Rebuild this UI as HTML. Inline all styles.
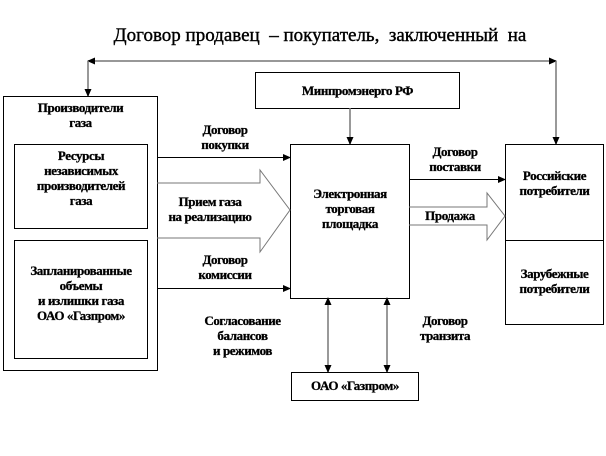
<!DOCTYPE html>
<html><head><meta charset="utf-8"><style>
body{margin:0;background:#fff;width:606px;height:456px;overflow:hidden;position:relative;font-family:"Liberation Serif",serif;}
.t{position:absolute;font-weight:bold;font-size:13px;line-height:15px;text-align:center;color:#000;letter-spacing:-0.4px;-webkit-text-stroke:0.3px #000}
</style></head><body>
<svg width="606" height="456" style="position:absolute;left:0;top:0">
<defs>
<marker id="a" markerWidth="8" markerHeight="8" refX="7" refY="4" orient="auto" markerUnits="userSpaceOnUse"><path d="M0,0.5 L8,4 L0,7.5z" fill="#000"/></marker>
<marker id="g" markerWidth="8" markerHeight="8" refX="7" refY="4" orient="auto-start-reverse" markerUnits="userSpaceOnUse"><path d="M0,0.5 L8,4 L0,7.5z" fill="#000"/></marker>
</defs>
<g fill="none" stroke="#000" stroke-width="1">
<rect x="3.5" y="96.5" width="154" height="274"/>
<rect x="14.5" y="144.5" width="133" height="84"/>
<rect x="14.5" y="240.5" width="133" height="118"/>
<rect x="255.5" y="72.5" width="204" height="36"/>
<rect x="290.5" y="144.5" width="119" height="154"/>
<rect x="505.5" y="144.5" width="98" height="180"/>
<line x1="505" y1="240.5" x2="604" y2="240.5"/>
<rect x="291.5" y="372.5" width="127" height="28"/>
<line x1="157" y1="157.5" x2="290" y2="157.5" marker-end="url(#a)"/>
<line x1="157" y1="288.5" x2="290" y2="288.5" marker-end="url(#a)"/>
<line x1="409" y1="179.5" x2="505" y2="179.5" marker-end="url(#a)"/>
<path d="M157,183 L260,183 L260,170 L290,210 L260,252 L260,238 L157,238" stroke="#777"/>
<path d="M409,207 L487,207 L487,193 L505,216 L487,240 L487,225 L409,225" stroke="#777"/>
</g>
<g stroke="#777" stroke-width="1.5" fill="none">
<line x1="88" y1="61" x2="556" y2="61" marker-start="url(#g)" marker-end="url(#g)"/>
<line x1="88" y1="61" x2="88" y2="96" marker-end="url(#g)"/>
<line x1="556" y1="61" x2="556" y2="144" marker-end="url(#g)"/>
<line x1="350" y1="108" x2="350" y2="144" marker-end="url(#g)"/>
<line x1="328" y1="298" x2="328" y2="372" marker-start="url(#g)" marker-end="url(#g)"/>
<line x1="387" y1="298" x2="387" y2="372" marker-start="url(#g)" marker-end="url(#g)"/>
</g>
</svg>
<div style="position:absolute;left:50px;top:25px;width:540px;text-align:center;font-size:19px;-webkit-text-stroke:0.4px #000">Договор продавец &nbsp;– покупатель, &nbsp;заключенный &nbsp;на</div>
<div class="t" style="left:3px;top:100px;width:155px">Производители<br>газа</div>
<div class="t" style="left:14px;top:148px;width:134px">Ресурсы<br>независимых<br>производителей<br>газа</div>
<div class="t" style="left:10px;top:263px;width:142px">Запланированные<br>объемы<br>и излишки газа<br>ОАО «Газпром»</div>
<div class="t" style="left:255px;top:83px;width:205px">Минпромэнерго РФ</div>
<div class="t" style="left:180px;top:122px;width:90px">Договор<br>покупки</div>
<div class="t" style="left:150px;top:194px;width:120px">Прием газа<br>на реализацию</div>
<div class="t" style="left:180px;top:252px;width:90px">Договор<br>комиссии</div>
<div class="t" style="left:290px;top:186px;width:120px">Электронная<br>торговая<br>площадка</div>
<div class="t" style="left:410px;top:144px;width:90px">Договор<br>поставки</div>
<div class="t" style="left:410px;top:208px;width:80px">Продажа</div>
<div class="t" style="left:505px;top:168px;width:99px">Российские<br>потребители</div>
<div class="t" style="left:505px;top:266px;width:99px">Зарубежные<br>потребители</div>
<div class="t" style="left:180px;top:313px;width:125px">Согласование<br>балансов<br>и режимов</div>
<div class="t" style="left:400px;top:313px;width:90px">Договор<br>транзита</div>
<div class="t" style="left:291px;top:378px;width:128px">ОАО «Газпром»</div>
</body></html>
